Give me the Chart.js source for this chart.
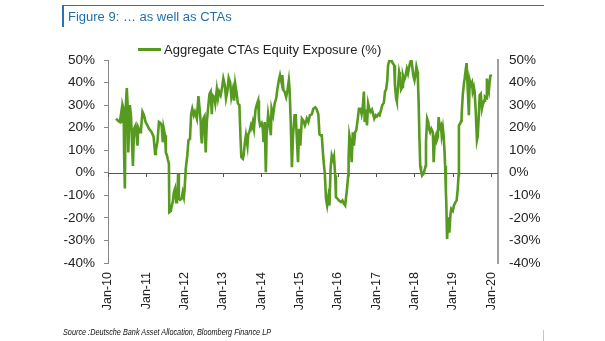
<!DOCTYPE html>
<html>
<head>
<meta charset="utf-8">
<script src="https://cdn.jsdelivr.net/npm/chart.js@4/dist/chart.umd.min.js"></script>
<style>
  html, body { margin: 0; padding: 0; background: #fff; }
  #wrap { position: relative; width: 605px; height: 341px; overflow: hidden; font-family: "Liberation Sans", Arial, sans-serif; }
  #c { position: absolute; left: 0; top: 0; }
  .frameTop { position: absolute; left: 62px; top: 5px; width: 482px; height: 1px; background: #2a73b0; }
  .frameLeft { position: absolute; left: 62px; top: 5px; width: 1.5px; height: 22px; background: #2a73b0; }
  .frameBR { position: absolute; left: 543px; top: 330px; width: 1px; height: 11px; background: #8fd6f2; }
  #title { position: absolute; left: 68px; top: 9px; font-size: 13px; color: #1f6fae; white-space: nowrap; }
  #legend { position: absolute; left: 138px; top: 42px; height: 16px; white-space: nowrap; font-size: 13px; color: #222; }
  #legend .sw { display: inline-block; width: 23px; height: 2.5px; background: #559a1f; vertical-align: middle; margin-right: 3px; position: relative; top: -1px; }
  #source { position: absolute; left: 63px; top: 328px; font-size: 8.2px; font-style: italic; color: #111; white-space: nowrap; transform: scaleX(0.89); transform-origin: left top; }
</style>
</head>
<body>
<div id="wrap">
  <canvas id="c" width="605" height="341"></canvas>
  <div class="frameTop"></div>
  <div class="frameLeft"></div>
  <div class="frameBR"></div>
  <div id="title">Figure 9: … as well as CTAs</div>
  <div id="legend"><span class="sw"></span>Aggregate CTAs Equity Exposure (%)</div>
  <div id="source">Source :Deutsche Bank Asset Allocation, Bloomberg Finance LP</div>
</div>
<script>
// ---- data (decimal years, % exposure) ----
const seriesName = "Aggregate CTAs Equity Exposure (%)";
const dates = [
  2010.21,2010.27,2010.31,2010.34,2010.36,2010.38,2010.41,2010.42,2010.44,2010.46,
  2010.49,2010.51,2010.53,2010.55,2010.57,2010.60,2010.62,2010.65,2010.68,2010.72,
  2010.77,2010.79,2010.84,2010.86,2010.90,2010.94,2010.98,2011.03,2011.07,2011.14,
  2011.19,2011.23,2011.25,2011.29,2011.33,2011.37,2011.40,2011.43,2011.45,2011.49,
  2011.51,2011.54,2011.56,2011.59,2011.60,2011.64,2011.66,2011.69,2011.72,2011.75,
  2011.78,2011.80,2011.81,2011.83,2011.85,2011.88,2011.92,2011.95,2011.98,2012.00,
  2012.03,2012.05,2012.07,2012.10,2012.14,2012.17,2012.20,2012.24,2012.27,2012.32,
  2012.36,2012.39,2012.42,2012.43,2012.45,2012.49,2012.52,2012.55,2012.58,2012.62,
  2012.65,2012.68,2012.71,2012.73,2012.77,2012.80,2012.84,2012.87,2012.90,2012.94,
  2012.98,2013.01,2013.05,2013.08,2013.12,2013.15,2013.19,2013.22,2013.26,2013.29,
  2013.32,2013.36,2013.39,2013.43,2013.46,2013.48,2013.52,2013.54,2013.57,2013.60,
  2013.64,2013.66,2013.69,2013.73,2013.75,2013.78,2013.81,2013.85,2013.88,2013.92,
  2013.94,2013.97,2014.01,2014.04,2014.06,2014.09,2014.12,2014.14,2014.18,2014.21,
  2014.25,2014.27,2014.31,2014.35,2014.39,2014.42,2014.46,2014.49,2014.53,2014.55,
  2014.58,2014.61,2014.65,2014.68,2014.72,2014.74,2014.77,2014.80,2014.83,2014.87,
  2014.90,2014.93,2014.96,2014.99,2015.02,2015.06,2015.10,2015.14,2015.19,2015.23,
  2015.27,2015.32,2015.36,2015.41,2015.45,2015.49,2015.52,2015.55,2015.58,2015.61,
  2015.63,2015.66,2015.69,2015.72,2015.75,2015.78,2015.81,2015.84,2015.88,2015.90,
  2015.93,2015.95,2015.99,2016.03,2016.08,2016.12,2016.16,2016.19,2016.22,2016.24,
  2016.27,2016.28,2016.30,2016.33,2016.36,2016.39,2016.42,2016.45,2016.48,2016.52,
  2016.55,2016.59,2016.62,2016.65,2016.68,2016.70,2016.73,2016.76,2016.79,2016.82,
  2016.85,2016.89,2016.92,2016.95,2016.99,2017.02,2017.06,2017.09,2017.13,2017.16,
  2017.20,2017.23,2017.26,2017.29,2017.31,2017.34,2017.36,2017.41,2017.43,2017.47,
  2017.49,2017.52,2017.54,2017.57,2017.60,2017.62,2017.65,2017.68,2017.70,2017.73,
  2017.76,2017.80,2017.83,2017.87,2017.89,2017.92,2017.95,2017.97,2018.00,2018.03,
  2018.05,2018.08,2018.09,2018.11,2018.13,2018.15,2018.17,2018.20,2018.23,2018.26,
  2018.29,2018.30,2018.33,2018.36,2018.38,2018.41,2018.44,2018.48,2018.50,2018.53,
  2018.56,2018.58,2018.61,2018.63,2018.66,2018.69,2018.71,2018.74,2018.76,2018.78,
  2018.80,2018.82,2018.83,2018.85,2018.88,2018.89,2018.91,2018.94,2018.96,2019.00,
  2019.03,2019.07,2019.10,2019.13,2019.15,2019.16,2019.19,2019.22,2019.23,2019.26,
  2019.29,2019.31,2019.34,2019.36,2019.39,2019.42,2019.44,2019.47,2019.50,2019.52,
  2019.55,2019.57,2019.60,2019.63,2019.65,2019.68,2019.70,2019.73,2019.76,2019.78,
  2019.82,2019.84,2019.87,2019.89,2019.91,2019.94,2019.96,2019.98,2020.02
];
const exposure = [
  24,23,22.5,26,22,30,28,9,-7,28,
  37.6,31,9,22,30,25,16.6,3,19.5,21,
  12,20,18,19,27,25.5,22.5,21,19.5,18,
  16,8.4,10,13.6,22.5,22,21,13.6,20,16.6,
  9,7.7,6,4,-17.5,-17,-15,-13,-8.6,-7,
  -13,-7,-12,-0.5,-11.5,-12,-11.5,-8.6,-10.8,-7,
  1.8,4.7,7.7,14.4,15,26,28.4,25.5,27,24,
  34,28.4,22.5,16.6,13,24,25,9,22.5,30,
  35,36,26,34.4,33.6,30.7,37,33,36,34.4,
  38,41.8,38.8,33,36.6,42,40,33.6,37,32,
  39.5,35,30.7,30,15,7,6.2,7.7,13,16.6,
  12,17,18,21,20,22.5,19.5,28,30,32,
  24,21,22,19.5,13.6,22.5,0.3,16.6,26,22.5,
  16.6,28.4,25.5,30.7,33,37,41,43.3,40,43.3,
  36.6,36,33.6,36,41,37,22.5,2.5,16.6,25.5,
  25.5,15,4.7,19.5,12,24,23,21,24,22.5,
  25.5,26,28.4,29,28,26,17,16.6,16.6,9,
  4.7,-0.5,-11.5,-14.5,-10.8,-14.5,1.8,7.7,5.5,7,
  -1.2,-10.8,-11.5,-12.3,-13,-12.3,-13.8,-14.5,-10,-7,
  -1.2,6.2,16.6,13.6,4.7,18,12,18,18.8,24,
  28.4,28.4,26,29,36,22.5,28,21,30.7,28.4,
  27,28,26,24,25.5,25,26,25.5,28,30,
  31,36,37,41,47.7,49.5,49.5,49.5,48.6,47.7,
  38.8,33,31.6,38,44.7,43,37,38,43,41,
  42.5,46,44,47.7,49,50,46,43,41,44,
  47,44.7,41,30,15,3,1,-1.2,-0.5,1,
  3,13.6,24,22.5,19.5,18,19.5,18,4.7,15,
  16.6,14.4,16,24.7,20,21,16.6,20,16.6,10.7,
  3,-8.6,-13,-29.3,-22,-19.7,-26.6,-18.2,-16,-16.9,
  -14.5,-13,-12.3,-7,-1.2,21,21.7,23,25.5,34.4,
  39.5,41.8,46,48.6,37,25.5,41,38.8,40,36,
  38,36,27,14.4,16,25.5,34.4,35,28.4,30,
  32,33.6,33,41.8,38,36,40,43,43.3
];
const tickYears  = [2010,2011,2012,2013,2014,2015,2016,2017,2018,2019,2020];
const tickLabels = ["Jan-10","Jan-11","Jan-12","Jan-13","Jan-14","Jan-15","Jan-16","Jan-17","Jan-18","Jan-19","Jan-20"];
const yMin = -40, yMax = 50, yStep = 10;

const FONT = "'Liberation Sans', Arial, sans-serif";

const zeroLinePlugin = {
  id: 'zeroLine',
  beforeDatasetsDraw(chart) {
    const {ctx, chartArea, scales} = chart;
    const y0 = scales.y.getPixelForValue(0);
    ctx.save();
    ctx.strokeStyle = '#555';
    ctx.lineWidth = 1;
    ctx.beginPath();
    ctx.moveTo(chartArea.left, Math.round(y0) + 0.5);
    ctx.lineTo(chartArea.right, Math.round(y0) + 0.5);
    tickYears.forEach(yr => {
      const x = Math.round(scales.x.getPixelForValue(yr)) + 0.5;
      ctx.moveTo(x, Math.round(y0) + 0.5);
      ctx.lineTo(x, Math.round(y0) + 4);
    });
    ctx.stroke();
    ctx.restore();
  }
};

new Chart(document.getElementById('c'), {
  type: 'line',
  data: {
    datasets: [{
      label: seriesName,
      data: dates.map((d, i) => ({x: d, y: exposure[i]})),
      borderColor: '#569b1f',
      backgroundColor: '#569b1f',
      borderWidth: 2.6,
      pointRadius: 0,
      tension: 0,
      fill: false,
      yAxisID: 'y'
    }]
  },
  options: {
    responsive: false,
    animation: false,
    devicePixelRatio: 1,
    layout: { padding: { top: 60, left: 0, right: 0, bottom: 0 } },
    plugins: { legend: { display: false }, tooltip: { enabled: false }, title: { display: false } },
    scales: {
      x: {
        type: 'linear',
        min: 2010,
        max: 2020.18,
        afterBuildTicks: s => { s.ticks = tickYears.map(v => ({value: v})); },
        afterFit: s => { s.height = 78; },
        grid: { display: false, drawTicks: false },
        border: { display: false },
        ticks: {
          autoSkip: false,
          minRotation: 90, maxRotation: 90,
          padding: 9,
          color: '#222',
          font: { family: FONT, size: 12.5 },
          callback: v => { const i = tickYears.indexOf(v); return i >= 0 ? tickLabels[i] : ''; }
        }
      },
      y: {
        type: 'linear',
        position: 'left',
        min: yMin, max: yMax,
        afterFit: s => { s.width = 108; },
        grid: { drawOnChartArea: false, drawTicks: true, tickLength: 4, color: '#888' },
        border: { display: true, color: '#888', width: 1 },
        ticks: { stepSize: yStep, padding: 9, color: '#222', font: { family: FONT, size: 13.5 }, callback: v => v + '%' }
      },
      y2: {
        type: 'linear',
        position: 'right',
        min: yMin, max: yMax,
        afterFit: s => { s.width = 107; },
        grid: { drawOnChartArea: false, drawTicks: false },
        border: { display: true, color: '#a0a0a0', width: 2 },
        ticks: { stepSize: yStep, padding: 11, color: '#222', font: { family: FONT, size: 13.5 }, callback: v => v + '%' }
      }
    }
  },
  plugins: [zeroLinePlugin]
});
</script>
</body>
</html>
